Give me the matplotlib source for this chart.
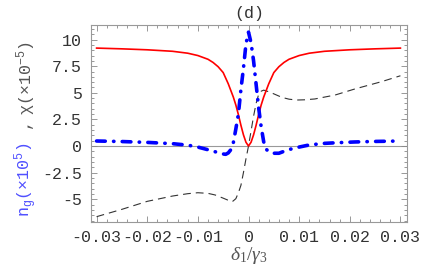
import matplotlib
matplotlib.use("Agg")
import matplotlib.pyplot as plt
from matplotlib.ticker import MultipleLocator

plt.rcParams['mathtext.fontset'] = 'custom'
plt.rcParams['mathtext.rm'] = 'Liberation Serif'
plt.rcParams['mathtext.it'] = 'Liberation Serif:italic'
plt.rcParams['mathtext.tt'] = 'Liberation Mono'

# red curve (solid)
red_x = [-0.030, -0.025, -0.020, -0.015, -0.012, -0.010, -0.008, -0.007, -0.006,
         -0.005, -0.004, -0.003, -0.0025, -0.002, -0.0015, -0.001, -0.0005, 0.0,
         0.0005, 0.001, 0.0015, 0.002, 0.0025, 0.003, 0.004, 0.005, 0.006, 0.007,
         0.008, 0.010, 0.012, 0.015, 0.020, 0.025, 0.030]
red_y = [9.20, 9.13, 9.04, 8.90, 8.72, 8.50, 8.15, 7.85, 7.45,
         6.90, 5.85, 4.60, 3.85, 2.95, 1.95, 1.05, 0.35, 0.0,
         0.35, 1.05, 1.95, 2.95, 3.85, 4.60, 5.85, 6.90, 7.45, 7.85,
         8.15, 8.50, 8.72, 8.90, 9.04, 9.13, 9.20]

# blue curve (dash-dot), n_g
blue_x = [-0.030, -0.025, -0.020, -0.015, -0.012, -0.010, -0.008, -0.006, -0.005,
          -0.0045, -0.004, -0.0035, -0.003, -0.0025, -0.002, -0.0015, -0.001,
          -0.0005, 0.0, 0.0005, 0.001, 0.0015, 0.002, 0.0025, 0.003, 0.0035,
          0.004, 0.005, 0.006, 0.007, 0.008, 0.010, 0.012, 0.015, 0.018, 0.021,
          0.025, 0.030]
blue_y = [0.47, 0.42, 0.34, 0.22, 0.08, -0.10, -0.35, -0.62, -0.75,
          -0.78, -0.65, -0.35, 0.30, 1.60, 3.00, 5.30, 7.30,
          9.60, 10.70, 9.70, 8.00, 5.80, 3.60, 1.80, 0.40, -0.30,
          -0.55, -0.68, -0.68, -0.50, -0.33, -0.10, 0.10, 0.25, 0.32, 0.38,
          0.43, 0.47]

# black curve (dashed), chi
chi_x = [-0.030, -0.025, -0.020, -0.015, -0.012, -0.010, -0.008, -0.0066, -0.005,
         -0.004, -0.0032, -0.0025, -0.002, -0.0015, -0.001, -0.0005, 0.0, 0.0005,
         0.001, 0.0015, 0.002, 0.0025, 0.003, 0.004, 0.005, 0.0066, 0.008, 0.0095,
         0.011, 0.0131, 0.0171, 0.021, 0.0263, 0.030]
chi_y = [-6.64, -5.95, -5.20, -4.70, -4.48, -4.39, -4.45, -4.60, -4.90,
         -5.10, -5.23, -4.95, -4.40, -3.70, -2.50, -1.20, 0.0, 1.40,
         2.80, 4.00, 4.85, 5.15, 5.25, 5.10, 4.90, 4.57, 4.40, 4.32,
         4.34, 4.42, 4.79, 5.36, 6.05, 6.60]

xticks = [-0.03, -0.02, -0.01, 0, 0.01, 0.02, 0.03]
xticklabels = ['-0.03', '-0.02', '-0.01', '0', '0.01', '0.02', '0.03']
yticks = [-5, -2.5, 0, 2.5, 5, 7.5, 10]
yticklabels = ['-5', '-2.5', '0', '2.5', '5', '7.5', '10']

fig = plt.figure(figsize=(4.36, 2.70), dpi=100)
ax = fig.add_axes([0.2076, 0.1778, 0.7259, 0.7296])

ax.axhline(0, color='#999999', lw=0.8, zorder=1)
ax.plot(chi_x, chi_y, color='#333333', lw=0.8, linestyle=(0, (7, 4.5)), zorder=2)
ax.plot(red_x, red_y, color='#ff0000', lw=1.2, zorder=3)
ax.plot(blue_x, blue_y, color='#0000ff', lw=2.6, linestyle=(0, (2.4, 2.3, 0.1, 2.3)),
        dash_capstyle='round', zorder=4)

ax.set_xlim(-0.0312, 0.0313)
ax.set_ylim(-7.14, 11.37)

ax.set_xticks(xticks)
ax.set_xticklabels(xticklabels)
ax.xaxis.set_minor_locator(MultipleLocator(0.002))
ax.set_yticks(yticks)
ax.set_yticklabels(yticklabels)
ax.yaxis.set_minor_locator(MultipleLocator(0.5))

ax.tick_params(which='both', direction='in', top=True, right=True, color='#888888',
               width=0.6)
ax.tick_params(which='major', length=4)
ax.tick_params(which='minor', length=2)
ax.tick_params(axis='x', pad=6)
ax.tick_params(axis='y', pad=6)
for lab in ax.get_xticklabels() + ax.get_yticklabels():
    lab.set_fontfamily('Liberation Mono')
    lab.set_fontsize(12)
    lab.set_color('#333333')

for s in ax.spines.values():
    s.set_color('#999999')
    s.set_linewidth(0.8)

ax.set_title('(d)', fontfamily='Liberation Mono', fontsize=12, color='#333333', pad=5)
ax.set_xlabel(r'$\delta_1/\gamma_3$', fontsize=14, color='#555555', labelpad=0)

fig.text(0.06, 0.196, r'$\mathtt{n_g(\times 10^5)}$', rotation=90, ha='center', va='bottom',
         fontsize=12, color='#5050ff')
fig.text(0.06, 0.515, r'$\mathtt{,\ \chi(\times 10^{-5})}$', rotation=90, ha='center',
         va='bottom', fontsize=12, color='#555555')

fig.savefig('out.png', dpi=100)
